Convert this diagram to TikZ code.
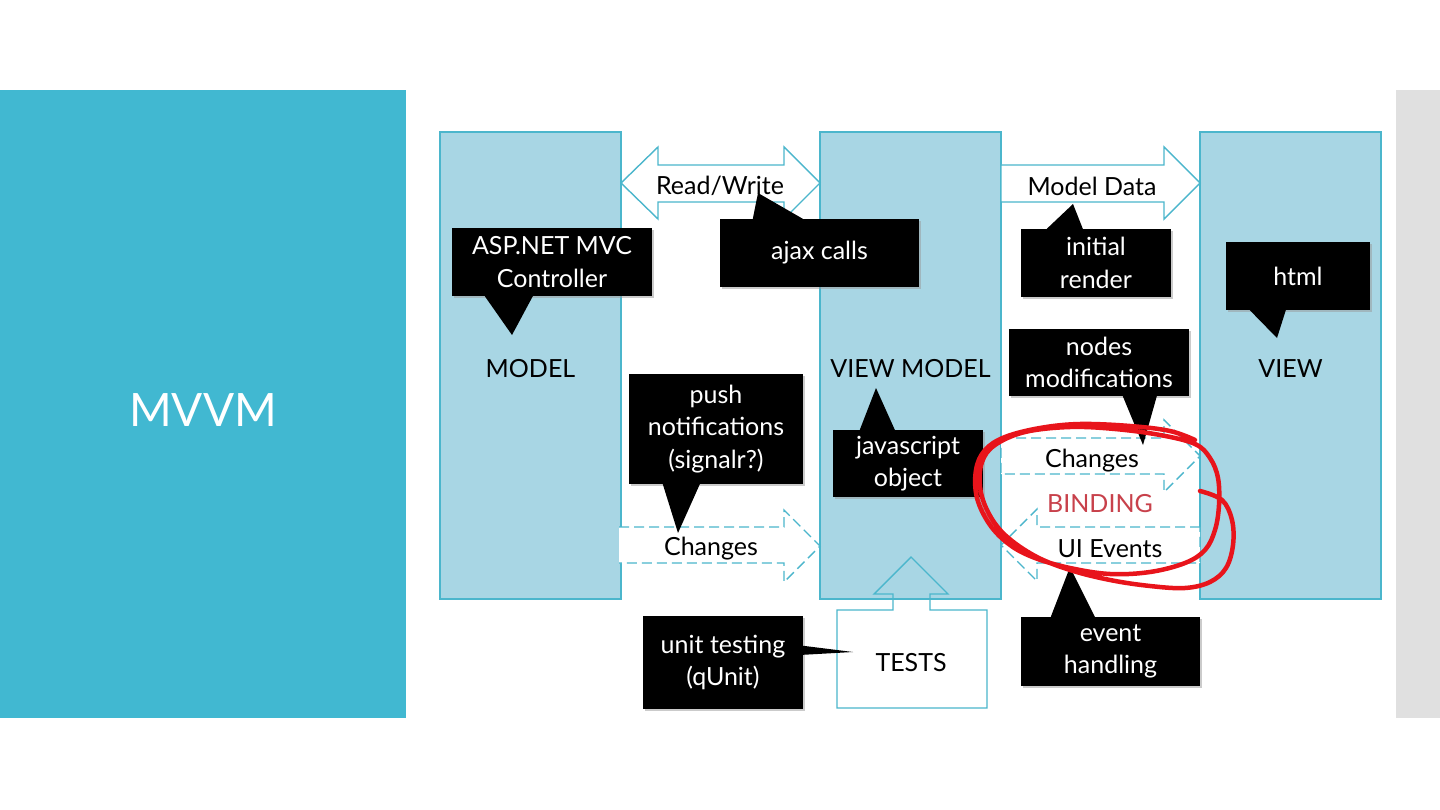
\documentclass[tikz,border=0pt]{standalone}
\usepackage{fontspec}
\setmainfont{Lato}
\usetikzlibrary{shadows}

\definecolor{slideteal}{RGB}{65,184,209}
\definecolor{colfill}{RGB}{168,214,228}
\definecolor{colline}{RGB}{75,182,204}
\definecolor{stripgray}{RGB}{224,224,224}
\definecolor{bindred}{RGB}{200,65,75}
\definecolor{penred}{RGB}{232,20,27}

\newcommand\labelfont{\fontsize{25}{32.5}\selectfont}

\tikzset{
	column/.style={draw=colline, fill=colfill, line width=1.2pt, inner sep=0pt, minimum width=181pt, minimum height=467pt},
	blockarrow/.style={draw=colline, fill=white, line width=1.4pt},
	dasharrow/.style={draw=colline, fill=white, line width=1.4pt, dash pattern=on 10pt off 5pt},
	callout/.style={fill=black, text=white, align=center, inner sep=0pt, font=\labelfont, drop shadow={shadow xshift=2pt, shadow yshift=-2pt, fill=black!40}},
	flowtext/.style={font=\labelfont, inner sep=0pt}
}

\begin{document}
\begin{tikzpicture}[x=1pt, y=-1pt]
	\useasboundingbox (0,0) rectangle (1440,810);
	\fill[white] (0,0) rectangle (1440,810);
	\fill[slideteal] (0,90) rectangle (406,718);
	\fill[stripgray] (1396,90) rectangle (1440,718);
	\node (title) at (203,410) [text=white, font=\fontsize{46}{54}\selectfont] {MVVM};

	% columns
	\node (model) at ( 530.5, 365.5)	[column]	{};
	\node (vm)    at ( 910.5, 365.5)	[column]	{};
	\node (view)  at (1290.5, 365.5)	[column]	{};
	\node (modeltext) at (model.center)	[flowtext, yshift=-3pt]	{MODEL};
	\node (vmtext)    at (vm.center)	[flowtext, yshift=-3pt]	{VIEW MODEL};
	\node (viewtext)  at (view.center)	[flowtext, yshift=-3pt]	{VIEW};

	% block arrows
	\draw[blockarrow] (621,183) -- (658,147) -- (658,165) -- (784,165) -- (784,147) -- (820,183) -- (784,219) -- (784,202) -- (658,202) -- (658,219) -- cycle;
	\node (rw) at (720,186) [flowtext] {Read/Write};
	\draw[blockarrow] (1001,165) -- (1164,165) -- (1164,147) -- (1200,183) -- (1164,219) -- (1164,202) -- (1001,202) -- cycle;
	\node (data) at (1092,186) [flowtext] {Model Data};
	\draw[dasharrow] (619,527) -- (784,527) -- (784,510) -- (820,546) -- (784,582) -- (784,563) -- (619,563);
	\node (push) at (711,549) [flowtext] {Changes};
	\draw[dasharrow] (1001,438) -- (1164,438) -- (1164,420) -- (1200,456) -- (1164,492) -- (1164,474) -- (1001,474) -- cycle;
	\node (changes) at (1092,461) [flowtext] {Changes};
	\draw[dasharrow] (1200,527) -- (1037,527) -- (1037,509) -- (1001,545) -- (1037,581) -- (1037,563) -- (1200,563) -- cycle;
	\node (events) at (1110,549) [flowtext] {UI Events};
	\node (binding) at (1100,504) [flowtext, text=bindred] {BINDING};

	% tests
	\draw[colline, line width=1.4pt] (837,610) -- (893,610) -- (893,594) -- (874,594) -- (911,557) -- (948,594) -- (930,594) -- (930,610) -- (987,610) -- (987,708) -- (837,708) -- cycle;
	\node (tests) at (911,663) [flowtext] {TESTS};

	% callouts
	\node (asp)  at ( 552,  262)	[callout, minimum width=200pt, minimum height=68pt]	{ASP.NET MVC\\Controller};
	\fill ([xshift=33pt]asp.south west) -- (512,335) -- ([xshift=81pt]asp.south west) -- cycle;
	\node (ajax) at ( 819.5,253)	[callout, minimum width=199pt, minimum height=68pt]	{ajax calls};
	\fill ([xshift=33pt]ajax.north west) -- (758,193) -- ([xshift=83pt]ajax.north west) -- cycle;
	\node (init) at (1096,  263)	[callout, minimum width=150pt, minimum height=68pt]	{initial\\render};
	\fill ([xshift=26pt]init.north west) -- (1073,204) -- ([xshift=62pt]init.north west) -- cycle;
	\node (html) at (1298,  276)	[callout, minimum width=144pt, minimum height=68pt]	{html};
	\fill ([xshift=24pt]html.south west) -- (1277,338) -- ([xshift=60pt]html.south west) -- cycle;
	\node (mods) at (1099,  362.5)	[callout, minimum width=180pt, minimum height=67pt]	{nodes\\modifications};
	\fill ([xshift=114pt]mods.south west) -- (1143,445) -- ([xshift=148pt]mods.south west) -- cycle;
	\node (signal) at (716, 429)	[callout, minimum width=174pt, minimum height=110pt]	{push\\notifications\\(signalr?)};
	\fill ([xshift=34pt]signal.south west) -- (678,533) -- ([xshift=71pt]signal.south west) -- cycle;
	\node (js)   at ( 908,  463.5)	[callout, minimum width=150pt, minimum height=67pt]	{javascript\\object};
	\fill ([xshift=27pt]js.north west) -- (876,388) -- ([xshift=62pt]js.north west) -- cycle;
	\node (unit) at ( 723,  662.5)	[callout, minimum width=160pt, minimum height=93pt]	{unit testing\\(qUnit)};
	\fill ([yshift=-30pt]unit.north east) -- (853,652) -- ([yshift=-39pt]unit.north east) -- cycle;
	\node (handle) at (1110.5,651.5)	[callout, minimum width=179pt, minimum height=69pt]	{event\\handling};
	\fill ([xshift=30pt]handle.north west) -- (1070,567) -- ([xshift=74pt]handle.north west) -- cycle;

	% hand drawn loop
	\draw[penred, line width=4.5pt, line cap=round, line join=round] plot[smooth, tension=0.6] coordinates {
		(1200,491) (1222,500) (1232,520) (1233,545) (1226,568) (1210,582) (1185,588) (1150,586) (1110,580) (1070,570) (1035,556) (1005,535) (988,512) (980,487) (982,462) (995,445) (1025,432) (1070,427) (1115,429) (1160,435) (1195,444) (1210,458) (1218,478) (1219,505) (1215,530) (1205,550) (1185,563) (1150,572) (1110,574) (1070,568) (1035,558) (1010,545) (990,525) (977,498) (976,470) (985,450) (1005,437) (1040,428) (1080,424) (1130,426) (1170,431) (1195,440)};
\end{tikzpicture}
\end{document}
